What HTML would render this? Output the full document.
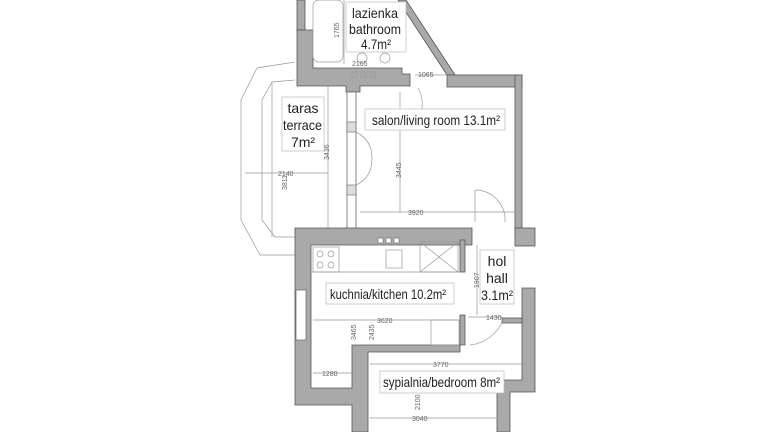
<!DOCTYPE html>
<html><head><meta charset="utf-8"><style>
html,body{margin:0;padding:0;background:#fff;width:768px;height:432px;overflow:hidden}
svg{display:block}
text{font-family:"Liberation Sans",sans-serif;fill:#222}
.w{fill:#a9a9a9;stroke:#555;stroke-width:0.8}
.l{stroke:#999;stroke-width:0.7;fill:none}
.d{font-size:7px;fill:#666}
.lab{fill:#fff;stroke:#bbb;stroke-width:0.7}
</style></head><body>
<svg width="768" height="432" viewBox="0 0 768 432">
<polyline class="l" points="295,62 257,68 241,100 241,220 260,255 295,255"/>
<polyline class="l" points="295,80 272,82 262,100 262,220 275,237 295,237"/>
<line class="l" x1="272" y1="82" x2="272" y2="237"/>
<line class="l" x1="328" y1="82" x2="328" y2="237"/>
<rect class="w" x="297" y="0" width="8" height="30"/>
<path class="w" d="M297,30 H313 V68 H402 V74 H410 V86 H360 V92 H346 V86 H297 Z"/>
<rect x="313" y="0" width="30" height="62" fill="#fff" stroke="#999" stroke-width="0.7" rx="6"/>
<line class="l" x1="344" y1="0" x2="344" y2="64"/>
<polygon class="w" points="398,0 406,0 455,75 447,75"/>
<rect class="w" x="447" y="75" width="75" height="12"/>
<rect class="w" x="515" y="75" width="7" height="160"/>
<rect class="w" x="515" y="228" width="20" height="18"/>
<circle class="l" cx="362" cy="58" r="5"/><circle class="l" cx="385" cy="58" r="5"/>
<rect class="l" x="352" y="72" width="5" height="5"/><rect class="l" x="361" y="72" width="5" height="5"/><rect class="l" x="370" y="72" width="5" height="5"/>
<rect x="347" y="92" width="9" height="140" fill="#fff" stroke="#666" stroke-width="0.8"/>
<rect x="347" y="122" width="9" height="10" fill="#ddd" stroke="#666" stroke-width="0.6"/>
<rect x="347" y="185" width="9" height="10" fill="#ddd" stroke="#666" stroke-width="0.6"/>
<path class="l" d="M356,132 Q372,140 372,158 M356,185 Q372,178 372,158"/>
<path class="l" d="M418,88 A32,32 0 0 1 418,120"/>
<path class="l" d="M475,190 A30,30 0 0 1 505,222 M475,190 V222"/>
<path class="w" d="M295,228 H472 V245 H311 V388 H352 V345 H465 V315 H460 V352 H368 V432 H352 V405 H295 Z"/>
<rect class="w" x="460" y="240" width="5" height="32"/>
<rect x="296" y="290" width="10" height="50" fill="#fff" stroke="#666" stroke-width="0.7"/>
<rect x="378" y="238" width="5" height="5" fill="#fff" stroke="#555" stroke-width="0.5"/><rect x="386" y="238" width="5" height="5" fill="#fff" stroke="#555" stroke-width="0.5"/><rect x="394" y="238" width="5" height="5" fill="#fff" stroke="#555" stroke-width="0.5"/>
<line class="l" x1="311" y1="272" x2="460" y2="272"/>
<rect class="l" x="313" y="247" width="26" height="25"/>
<circle class="l" cx="320" cy="254" r="3"/><circle class="l" cx="331" cy="254" r="3"/><circle class="l" cx="320" cy="265" r="3"/><circle class="l" cx="331" cy="265" r="3"/>
<rect class="l" x="386" y="250" width="16" height="18"/>
<rect class="l" x="420" y="242" width="38" height="30"/>
<line class="l" x1="420" y1="242" x2="458" y2="272"/><line class="l" x1="458" y1="242" x2="420" y2="272"/>
<rect class="l" x="431" y="320" width="28" height="25"/>
<path class="w" d="M522,288 H535 V392 H510 V432 H497 V380 H522 Z"/>
<rect class="w" x="502" y="318" width="20" height="5"/>
<path class="l" d="M470,345 A40,40 0 0 0 503,320"/>
<g class="l">
<line x1="360" y1="212" x2="515" y2="212"/>
<line x1="245" y1="173" x2="328" y2="173"/>
<line x1="400" y1="92" x2="400" y2="212"/>
<line x1="313" y1="320" x2="460" y2="320"/>
<line x1="313" y1="373" x2="352" y2="373"/>
<line x1="370" y1="364" x2="522" y2="364"/>
<line x1="370" y1="418" x2="497" y2="418"/>
<line x1="477" y1="245" x2="477" y2="315"/>
<line x1="468" y1="317" x2="502" y2="317"/>
<line x1="415" y1="75" x2="447" y2="75"/>
</g>
<text class="d" x="408" y="215">3920</text>
<text class="d" x="278" y="176">2140</text>
<text class="d" x="418" y="77">1065</text>
<text class="d" x="377" y="323">3620</text>
<text class="d" x="322" y="376">1280</text>
<text class="d" x="433" y="367">3770</text>
<text class="d" x="412" y="421">3040</text>
<text class="d" x="486" y="320">1430</text>
<text class="d" x="352" y="66">2165</text>
<text class="d" transform="translate(287,190) rotate(-90)">3811</text>
<text class="d" transform="translate(329,160) rotate(-90)">3436</text>
<text class="d" transform="translate(401,178) rotate(-90)">3445</text>
<text class="d" transform="translate(339,38) rotate(-90)">1765</text>
<text class="d" transform="translate(479,288) rotate(-90)">1907</text>
<text class="d" transform="translate(356,340) rotate(-90)">3465</text>
<text class="d" transform="translate(374,340) rotate(-90)">2435</text>
<text class="d" transform="translate(420,410) rotate(-90)">2100</text>
<rect class="lab" x="346" y="2" width="60" height="50"/>
<text x="352" y="18" font-size="14" textLength="46" lengthAdjust="spacingAndGlyphs">lazienka</text>
<text x="349" y="34" font-size="14" textLength="52" lengthAdjust="spacingAndGlyphs">bathroom</text>
<text x="361" y="49" font-size="14" textLength="30" lengthAdjust="spacingAndGlyphs">4.7m²</text>
<rect class="lab" x="365" y="109" width="140" height="21"/>
<text x="372" y="125" font-size="14" textLength="128" lengthAdjust="spacingAndGlyphs">salon/living room 13.1m²</text>
<rect class="lab" x="282" y="97" width="42" height="54"/>
<text x="303" y="113" font-size="14" text-anchor="middle">taras</text>
<text x="283" y="130" font-size="14" textLength="39" lengthAdjust="spacingAndGlyphs">terrace</text>
<text x="303" y="147" font-size="14" text-anchor="middle">7m²</text>
<rect class="lab" x="326" y="283" width="128" height="21"/>
<text x="330" y="299" font-size="14" textLength="116" lengthAdjust="spacingAndGlyphs">kuchnia/kitchen 10.2m²</text>
<rect class="lab" x="480" y="250" width="34" height="54"/>
<text x="497" y="266" font-size="14" text-anchor="middle">hol</text>
<text x="497" y="283" font-size="14" text-anchor="middle">hall</text>
<text x="481" y="300" font-size="14" textLength="32" lengthAdjust="spacingAndGlyphs">3.1m²</text>
<rect class="lab" x="380" y="371" width="124" height="22"/>
<text x="383" y="387" font-size="14" textLength="117" lengthAdjust="spacingAndGlyphs">sypialnia/bedroom 8m²</text>
</svg>
</body></html>
